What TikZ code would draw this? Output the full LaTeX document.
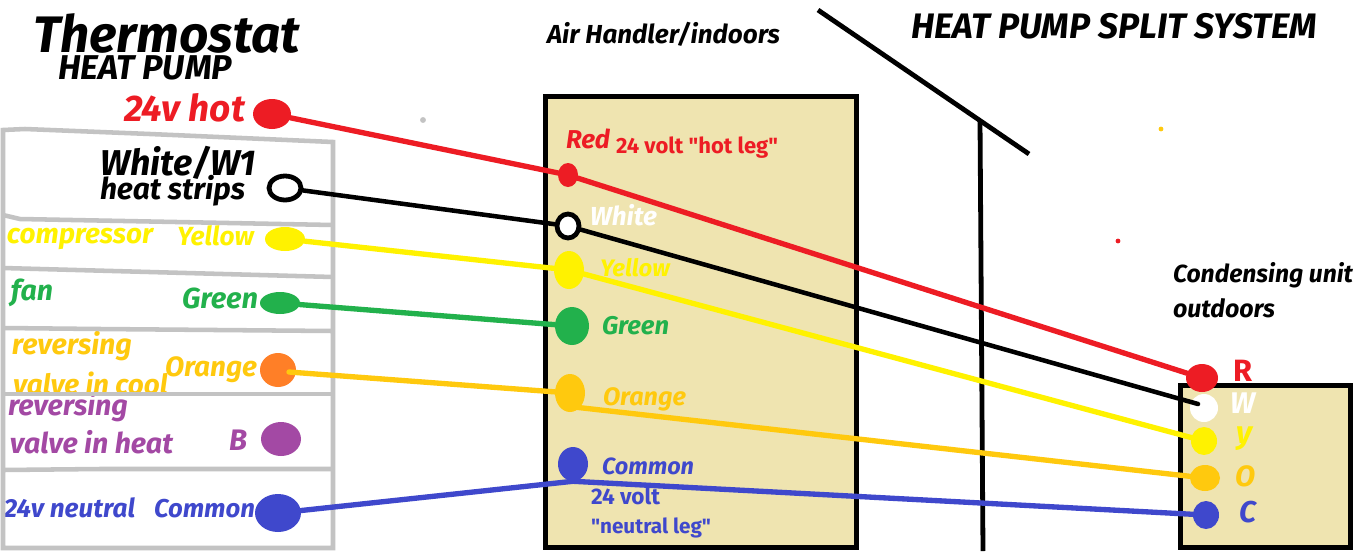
\documentclass[tikz,border=0pt]{standalone}
\usepackage{fontspec}
\usepackage{graphicx}
\setmainfont{Fira Sans}[Ligatures=TeXOff]
\usetikzlibrary{shapes.geometric}
\definecolor{cred}{HTML}{ED1C24}
\definecolor{cyel}{HTML}{FFF200}
\definecolor{cgrn}{HTML}{22B14C}
\definecolor{camb}{HTML}{FFC90E}
\definecolor{corg}{HTML}{FF7F27}
\definecolor{cpur}{HTML}{A349A4}
\definecolor{cblu}{HTML}{3F48CC}
\definecolor{cbox}{HTML}{EFE4B0}
\definecolor{cgry}{HTML}{C3C3C3}
\tikzset{
  dot/.style={ellipse,inner sep=0pt,fill=#1},
  wire/.style={line width=4pt,draw=#1,line cap=round},
  partition/.style={line width=3.4pt,draw=cgry},
  frame/.style={line width=3.75pt,draw=black,fill=cbox,rectangle,inner sep=0pt,outer sep=0pt,anchor=north west},
  txt/.style={anchor=base west,inner sep=0pt,outer sep=0pt},
}
% name, x1, x2, baseline, colour, font, text
\newcommand{\lbl}[7]{%
  \pgfmathsetlengthmacro{\lblw}{(#3-#2)*0.75pt}%
  \node[txt,text=#5] (#1) at (#2,#4) {\resizebox{\lblw}{!}{#6#7}};}
\newcommand{\pin}[7]{% name,x,y,rx,ry,fill,extra
  \node[dot=#6,minimum width=#4*1.5pt,minimum height=#5*1.5pt,#7] (#1) at (#2,#3) {};}
\begin{document}
\begin{tikzpicture}[x=0.75pt,y=-0.75pt]
\useasboundingbox (0,0) rectangle (1357,551);
\fill[white] (0,0) rectangle (1357,551);

% enclosures
\node[frame,minimum width=233.25pt,minimum height=338.6pt] (handler) at (545,96.5) {};
\node[frame,minimum width=127.5pt,minimum height=121.5pt] (outdoor) at (1180.5,385.5) {};

% wall and roof
\coordinate (walltop) at (980,120);
\coordinate (wallbot) at (983,551);
\coordinate (roofa) at (818,10);
\coordinate (roofb) at (1029,154);
\draw[line width=3.6pt] (walltop) -- (wallbot);
\draw[line width=3.6pt] (roofa) -- (roofb);

% specks
\fill[cgry] (423,120) circle (2.2pt);
\fill[camb] (1161,129) circle (1.8pt);
\fill[cred] (1118,241) circle (1.8pt);

% thermostat labels
\def\it{\itshape\bfseries}
\def\im{\itshape\fontseries{sb}\selectfont}
\lbl{ttitle}{33}{300}{52}{black}{\it}{Thermostat}
\lbl{tsub}{58}{232}{79}{black}{\im}{HEAT PUMP}
\lbl{thot}{124}{245}{121}{cred}{\im}{24v hot}
\lbl{twhite}{100}{256}{175}{black}{\it}{White/W1}
\lbl{tstrips}{100}{245}{199}{black}{\it}{heat strips}
\lbl{tcomp}{7}{153}{243}{cyel}{\im}{compressor}
\lbl{tyel}{177}{254}{245}{cyel}{\im}{Yellow}
\lbl{tfan}{11}{53}{300}{cgrn}{\im}{fan}
\lbl{tgrn}{182}{258}{308}{cgrn}{\im}{Green}
\lbl{trev}{12}{132}{354}{camb}{\im}{reversing}
\lbl{tcool}{13}{168}{394}{camb}{\im}{valve in cool}
\lbl{torg}{165}{257}{376}{camb}{\im}{Orange}
% cover of the next cell, which cuts the text above it
\fill[white] (5,394) rectangle (331,469);
\lbl{trevh}{8}{128}{415}{cpur}{\im}{reversing}
\lbl{theat}{10}{173}{453}{cpur}{\im}{valve in heat}
\lbl{tb}{229}{247}{450}{cpur}{\im}{B}
\lbl{tneu}{4}{135}{517}{cblu}{\im}{24v neutral}
\lbl{tcom}{154}{255}{517}{cblu}{\im}{Common}

% thermostat partitions
\draw[partition] (3,130) -- (25,129) -- (150,134) -- (333,142) -- (333,548) -- (3,548) -- cycle;
\draw[partition] (3,215) -- (20,219) -- (333,225);
\draw[partition] (3,268) -- (333,277);
\draw[partition] (3,328) -- (100,329) -- (333,331);
\draw[partition] (3,394) -- (333,394);
\draw[partition] (3,470) -- (100,469) -- (333,469);

% top and handler labels
\lbl{air}{547}{780}{43}{black}{\im}{Air Handler/indoors}
\lbl{split}{911}{1317}{38}{black}{\im}{HEAT PUMP SPLIT SYSTEM}
\lbl{hred}{566}{610}{148}{cred}{\im}{Red}
\lbl{hhot}{616}{778}{153}{cred}{\fontseries{sb}\selectfont}{24 volt "hot leg"}
\lbl{hwhite}{590}{657}{225}{white}{\it}{White}
\lbl{hyel}{600}{670}{276}{cyel}{\im}{Yellow}
\lbl{hgrn}{602}{669}{334}{cgrn}{\im}{Green}
\lbl{horg}{603}{686}{405}{camb}{\im}{Orange}
\lbl{hcom}{602}{694}{474}{cblu}{\im}{Common}
\lbl{hv}{591}{660}{504}{cblu}{\fontseries{sb}\selectfont}{24 volt}
\lbl{hn}{591}{711}{533}{cblu}{\fontseries{sb}\selectfont}{"neutral leg"}

% outdoor labels
\lbl{ocond}{1173}{1353}{282}{black}{\im}{Condensing unit}
\lbl{oout}{1173}{1275}{317}{black}{\im}{outdoors}
\lbl{or}{1233}{1252}{381}{cred}{\bfseries}{R}
\lbl{ow}{1230}{1255}{413}{white}{\it}{W}
\lbl{oy}{1236}{1252}{443}{cyel}{\it}{y}
\lbl{oo}{1235}{1255}{486}{camb}{\im}{O}
\lbl{oc}{1239}{1256}{522}{cblu}{\im}{C}

% pins: thermostat
\pin{p1}{272}{114}{19}{15}{cred}{}
\pin{p2}{285}{188}{16}{12}{white}{draw=black,line width=3.6pt}
\pin{p3}{285}{239}{20}{12}{cyel}{}
\pin{p4}{280}{303}{20}{11}{cgrn}{}
\pin{p5}{278}{370}{18}{17}{corg}{}
\pin{p6}{281}{439}{20}{17}{cpur}{}
\pin{p7}{278}{513}{23}{19}{cblu}{}
% pins: air handler
\pin{h1}{568}{175}{10}{12}{cred}{}
\pin{h2}{568}{226}{11}{12}{white}{draw=black,line width=3.6pt}
\pin{h3}{569}{270}{15}{19}{cyel}{}
\pin{h4}{572}{326}{17}{19}{cgrn}{}
\pin{h5}{570}{393}{15}{19}{camb}{}
\pin{h6}{573}{464}{15}{17}{cblu}{}
% pins: outdoor unit
\pin{o1}{1202}{378}{16}{14}{cred}{}
\pin{o2}{1204}{408}{14}{14}{white}{}
\pin{o3}{1204}{441}{13}{14}{cyel}{}
\pin{o4}{1205}{478}{15}{13}{camb}{}
\pin{o5}{1206}{515}{13}{14}{cblu}{}

% wires
\coordinate (w2end) at (1198,404);
\coordinate (h5out) at (574,407);
\coordinate (p5out) at (289,372);
\draw[wire=cred] (p1) -- (h1);
\draw[wire=cred] (h1) -- (o1);
\draw[wire=black,line width=3.4pt] (p2) -- (h2);
\draw[wire=black,line width=3.4pt] (h2) -- (w2end);
\draw[wire=cyel] (p3) -- (h3);
\draw[wire=cyel] (h3) -- (o3);
\draw[wire=cgrn] (p4) -- (h4);
\draw[wire=camb] (p5out) -- (h5);
\draw[wire=camb] (h5out) -- (o4);
\draw[wire=cblu] (p7) -- (h6.south);
\draw[wire=cblu] (h6.south) -- (o5);
\end{tikzpicture}
\end{document}
